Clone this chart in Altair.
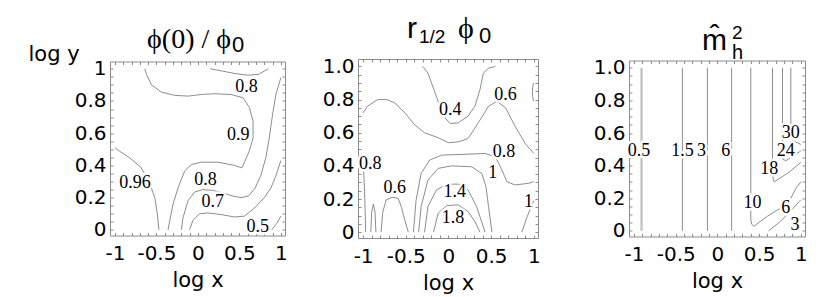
import altair as alt
import pandas as pd

XDOM = [-1.06, 1.05]
YDOM = [-0.035, 1.045]
X_LABELED = [-1, -0.5, 0, 0.5, 1]
Y_LABELED = [0, 0.2, 0.4, 0.6, 0.8, 1]
X_TICKS_ALL = [-1.0, -0.9, -0.8, -0.7, -0.6, -0.5, -0.4, -0.3, -0.2, -0.1, 0.0,
               0.1, 0.2, 0.3, 0.4, 0.5, 0.6, 0.7, 0.8, 0.9, 1.0]
Y_TICKS_ALL = [0.0, 0.05, 0.1, 0.15, 0.2, 0.25, 0.3, 0.35, 0.4, 0.45, 0.5,
               0.55, 0.6, 0.65, 0.7, 0.75, 0.8, 0.85, 0.9, 0.95, 1.0]

# ---------------- Panel 1 : phi(0)/phi0 ----------------
P1_C096_X = [-1.0, -0.95, -0.83, -0.69, -0.59, -0.52, -0.49, -0.47]
P1_C096_Y = [0.51, 0.49, 0.45, 0.39, 0.30, 0.20, 0.10, 0.0]
P1_C090_X = [-0.64, -0.62, -0.56, -0.44, -0.28, -0.12, 0.04, 0.20, 0.40, 0.545, 0.62, 0.665, 0.665,
             0.62, 0.565, 0.53, 0.44, 0.24, 0.04, -0.08, -0.16, -0.24, -0.30, -0.34, -0.36]
P1_C090_Y = [1.0, 0.965, 0.90, 0.855, 0.835, 0.83, 0.84, 0.845, 0.84, 0.82, 0.76, 0.675, 0.57,
             0.49, 0.425, 0.385, 0.40, 0.42, 0.42, 0.405, 0.365, 0.26, 0.16, 0.055, 0.0]
P1_C080T_X = [0.15, 0.30, 0.45, 0.60, 0.73, 0.85]
P1_C080T_Y = [1.0, 0.985, 0.97, 0.96, 0.965, 1.0]
P1_C080_X = [-0.20, -0.18, -0.12, -0.04, 0.06, 0.18, 0.30, 0.42, 0.52, 0.61, 0.69, 0.76, 0.82, 0.86, 0.90, 0.94, 1.0]
P1_C080_Y = [0.0, 0.075, 0.18, 0.235, 0.25, 0.245, 0.23, 0.21, 0.20, 0.21, 0.26, 0.34, 0.45, 0.57, 0.715, 0.84, 0.945]
P1_C070_X = [-0.10, -0.06, 0.02, 0.12, 0.28, 0.44, 0.56, 0.68, 0.80, 0.88, 0.94, 1.0]
P1_C070_Y = [0.0, 0.06, 0.10, 0.105, 0.095, 0.08, 0.085, 0.135, 0.20, 0.26, 0.335, 0.43]
P1_C050_X = [0.89, 0.95, 1.0]
P1_C050_Y = [0.0, 0.04, 0.085]
P1_LAB_TEXT = ["0.8", "0.9", "0.96", "0.8", "0.7", "0.5"]
P1_LAB_X = [0.585, 0.485, -0.76, 0.09, 0.18, 0.72]
P1_LAB_Y = [0.885, 0.59, 0.29, 0.31, 0.17, 0.015]

# ---------------- Panel 2 : r_1/2 phi0 ----------------
P2_C040_X = [-0.30, -0.24, -0.17, -0.10, -0.04, 0.02, 0.115, 0.23, 0.31, 0.37, 0.41, 0.47, 0.55]
P2_C040_Y = [1.0, 0.96, 0.86, 0.76, 0.69, 0.655, 0.66, 0.70, 0.76, 0.86, 0.96, 0.99, 1.0]
P2_C060_X = [-1.0, -0.95, -0.83, -0.72, -0.63, -0.51, -0.40, -0.28, -0.12, 0.0, 0.115, 0.23, 0.35,
             0.47, 0.57, 0.67, 0.78, 0.90, 1.0]
P2_C060_Y = [0.72, 0.76, 0.80, 0.80, 0.78, 0.72, 0.65, 0.60, 0.57, 0.54, 0.545, 0.565, 0.66,
             0.76, 0.79, 0.75, 0.64, 0.535, 0.475]
P2_C060S_X = [1.0, 0.985, 0.985, 1.0]
P2_C060S_Y = [0.90, 0.87, 0.82, 0.79]
P2_C080_X = [-0.41, -0.38, -0.32, -0.22, -0.08, 0.195, 0.43, 0.55, 0.61, 0.685, 0.78, 0.94, 1.0]
P2_C080_Y = [0.0, 0.19, 0.355, 0.435, 0.465, 0.47, 0.475, 0.455, 0.395, 0.305, 0.285, 0.295, 0.305]
P2_C100_X = [-0.35, -0.32, -0.24, -0.12, 0.035, 0.27, 0.39, 0.44, 0.47, 0.51]
P2_C100_Y = [0.0, 0.155, 0.315, 0.385, 0.40, 0.395, 0.355, 0.275, 0.155, 0.0]
P2_C140_X = [-0.28, -0.24, -0.14, -0.02, 0.115, 0.23, 0.33, 0.43]
P2_C140_Y = [0.0, 0.155, 0.255, 0.29, 0.29, 0.255, 0.155, 0.0]
P2_C180_X = [-0.175, -0.12, -0.02, 0.115, 0.23, 0.31, 0.37]
P2_C180_Y = [0.0, 0.115, 0.16, 0.165, 0.125, 0.065, 0.0]
P2_C060A_X = [-0.79, -0.77, -0.73, -0.66, -0.59, -0.55, -0.51, -0.47]
P2_C060A_Y = [0.0, 0.12, 0.195, 0.21, 0.205, 0.15, 0.07, 0.0]
P2_C080L_X = [-1.0, -0.99, -0.98, -0.97]
P2_C080L_Y = [0.44, 0.33, 0.20, 0.0]
P2_C070L_X = [-0.91, -0.90, -0.88, -0.86, -0.85]
P2_C070L_Y = [0.0, 0.12, 0.17, 0.12, 0.0]
P2_C100R_X = [0.86, 0.92, 0.98, 1.0]
P2_C100R_Y = [0.0, 0.09, 0.165, 0.19]
P2_LAB_TEXT = ["0.4", "0.6", "0.8", "0.8", "1", "0.6", "1.4", "1.8", "1"]
P2_LAB_X = [0.02, 0.67, 0.65, -0.915, 0.52, -0.63, 0.075, 0.055, 0.94]
P2_LAB_Y = [0.74, 0.83, 0.485, 0.41, 0.355, 0.265, 0.24, 0.085, 0.185]

# ---------------- Panel 3 : m_h^2 ----------------
P3_C05_X = [-0.91, -0.91]
P3_C05_Y = [0.0, 1.0]
P3_C15_X = [-0.42, -0.42]
P3_C15_Y = [0.0, 1.0]
P3_C3_X = [-0.12, -0.12]
P3_C3_Y = [0.0, 1.0]
P3_C6_X = [0.17, 0.17]
P3_C6_Y = [0.0, 1.0]
P3_C10_X = [0.40, 0.40, 0.41, 0.44, 0.52, 0.60, 0.76, 0.88, 0.94, 1.0]
P3_C10_Y = [1.0, 0.07, 0.04, 0.028, 0.06, 0.09, 0.14, 0.20, 0.26, 0.30]
P3_C18_X = [0.66, 0.66, 0.68, 0.86, 1.0]
P3_C18_Y = [1.0, 0.34, 0.30, 0.36, 0.42]
P3_C24_X = [0.78, 0.78, 0.82, 1.0]
P3_C24_Y = [1.0, 0.44, 0.43, 0.49]
P3_C30_X = [0.88, 0.88, 0.92, 1.0]
P3_C30_Y = [1.0, 0.57, 0.55, 0.53]
P3_C6L_X = [0.615, 0.76, 0.91, 1.0]
P3_C6L_Y = [0.0, 0.06, 0.14, 0.19]
P3_C3L_X = [0.88, 0.94, 1.0]
P3_C3L_Y = [0.0, 0.04, 0.08]
P3_LAB_TEXT = ["0.5", "1.5", "3", "6", "10", "18", "24", "30", "6", "3"]
P3_LAB_X = [-0.94, -0.42, -0.19, 0.10, 0.42, 0.62, 0.82, 0.88, 0.82, 0.93]
P3_LAB_Y = [0.49, 0.49, 0.49, 0.49, 0.17, 0.38, 0.49, 0.60, 0.14, 0.036]


def lines_df(segs):
    rows = []
    for name, xs, ys in segs:
        for i, (x, y) in enumerate(zip(xs, ys)):
            rows.append({"seg": name, "order": i, "x": x, "y": y})
    return pd.DataFrame(rows)


def labels_df(texts, xs, ys):
    return pd.DataFrame({"t": texts, "x": xs, "y": ys})


LINE_COLOR = "#808080"
FRAME_COLOR = "#8c8c8c"
SERIF = "Liberation Serif"
SANS = "Liberation Sans"
INWARD = alt.ExprRef(expr="-3")
LABEL_SIZE = 18

XLAB = "indexof(%s, datum.value) >= 0 ? toString(datum.value) : ''" % str(X_LABELED)
YLAB1 = "indexof(%s, datum.value) >= 0 ? toString(datum.value) : ''" % str(Y_LABELED)
YLAB2 = "datum.value == 1 ? '1.0' : (" + YLAB1 + ")"


def txt(s, x, y, font, size, align="left"):
    return alt.Chart(pd.DataFrame({"t": [s]})).mark_text(
        font=font, fontSize=size, align=align, baseline="alphabetic", color="black"
    ).encode(text="t:N", x=alt.value(x), y=alt.value(y))


def xscale():
    return alt.Scale(domain=XDOM, nice=False, zero=False)


def yscale():
    return alt.Scale(domain=YDOM, nice=False, zero=False)


def panel(segs, labs, w, h, ylab_expr, title_layers, ytitle=False, light_segs=None):
    xaxis = alt.Axis(values=X_TICKS_ALL, labelExpr=XLAB, labelOverlap=False, labelFlush=False,
                     tickSize=INWARD, labelPadding=27, labelBaseline="alphabetic",
                     title="log x", titleY=51, titleBaseline="alphabetic")
    if ytitle:
        yaxis = alt.Axis(values=Y_TICKS_ALL, labelExpr=ylab_expr, labelOverlap=False,
                         labelFlush=False, tickSize=INWARD, labelPadding=7,
                         title="log y", titleAngle=0, titleX=-82, titleY=-1.5,
                         titleAlign="left", titleBaseline="alphabetic")
    else:
        yaxis = alt.Axis(values=Y_TICKS_ALL, labelExpr=ylab_expr, labelOverlap=False,
                         labelFlush=False, tickSize=INWARD, labelPadding=7, title="")
    xtop = alt.Axis(orient="top", values=X_TICKS_ALL, labels=False, tickSize=INWARD, title="")
    yright = alt.Axis(orient="right", values=Y_TICKS_ALL, labels=False, tickSize=INWARD, title="")

    layers = []
    if light_segs is not None:
        layers.append(alt.Chart(lines_df(light_segs)).mark_line(
            color="#c0c0c0", strokeWidth=2.2).encode(
            x=alt.X("x:Q", scale=xscale(), axis=None),
            y=alt.Y("y:Q", scale=yscale(), axis=None),
            detail="seg:N", order="order:Q"))
    layers.append(alt.Chart(lines_df(segs)).mark_line(
        color=LINE_COLOR, strokeWidth=0.9).encode(
        x=alt.X("x:Q", scale=xscale(), axis=xaxis),
        y=alt.Y("y:Q", scale=yscale(), axis=yaxis),
        detail="seg:N", order="order:Q"))
    ldf = labels_df(*labs)
    layers.append(alt.Chart(ldf).mark_text(
        font=SERIF, fontSize=LABEL_SIZE, color="white", stroke="white", strokeWidth=5,
        strokeJoin="round").encode(
        x=alt.X("x:Q", scale=xscale(), axis=None),
        y=alt.Y("y:Q", scale=yscale(), axis=None), text="t:N"))
    layers.append(alt.Chart(ldf).mark_text(
        font=SERIF, fontSize=LABEL_SIZE, color="black").encode(
        x=alt.X("x:Q", scale=xscale(), axis=xtop),
        y=alt.Y("y:Q", scale=yscale(), axis=yright), text="t:N"))
    layers.extend(title_layers)
    return alt.layer(*layers).resolve_scale(x="independent", y="independent").properties(
        width=w, height=h)


def spacer(w):
    return alt.Chart(pd.DataFrame({"s": [0]})).mark_point(opacity=0).properties(
        width=w, height=10, view=alt.ViewBackground(strokeOpacity=0))


PHI = "\u03d5"

p1 = panel(
    [("096", P1_C096_X, P1_C096_Y), ("090", P1_C090_X, P1_C090_Y),
     ("080t", P1_C080T_X, P1_C080T_Y), ("080", P1_C080_X, P1_C080_Y),
     ("070", P1_C070_X, P1_C070_Y), ("050", P1_C050_X, P1_C050_Y)],
    (P1_LAB_TEXT, P1_LAB_X, P1_LAB_Y), 175, 174, YLAB1,
    [txt(PHI + "(0) / " + PHI, 121, -14, SERIF, 28, "right"), txt("0", 122, -10, SANS, 22)],
    ytitle=True)

p2 = panel(
    [("040", P2_C040_X, P2_C040_Y), ("060", P2_C060_X, P2_C060_Y),
     ("060s", P2_C060S_X, P2_C060S_Y), ("080", P2_C080_X, P2_C080_Y),
     ("100", P2_C100_X, P2_C100_Y), ("140", P2_C140_X, P2_C140_Y),
     ("180", P2_C180_X, P2_C180_Y), ("060a", P2_C060A_X, P2_C060A_Y),
     ("080l", P2_C080L_X, P2_C080L_Y), ("070l", P2_C070L_X, P2_C070L_Y),
     ("100r", P2_C100R_X, P2_C100R_Y)],
    (P2_LAB_TEXT, P2_LAB_X, P2_LAB_Y), 180, 179, YLAB2,
    [txt("r", 49, -21.5, SANS, 30), txt("1/2", 61, -16.5, SANS, 19),
     txt(PHI, 100, -21.5, SERIF, 30), txt("0", 121, -16.5, SANS, 22)])

p3 = panel(
    [("15", P3_C15_X, P3_C15_Y), ("3", P3_C3_X, P3_C3_Y), ("6", P3_C6_X, P3_C6_Y),
     ("10", P3_C10_X, P3_C10_Y), ("18", P3_C18_X, P3_C18_Y), ("24", P3_C24_X, P3_C24_Y),
     ("30", P3_C30_X, P3_C30_Y), ("6l", P3_C6L_X, P3_C6L_Y), ("3l", P3_C3L_X, P3_C3L_Y)],
    (P3_LAB_TEXT, P3_LAB_X, P3_LAB_Y), 176, 176, YLAB2,
    [txt("m\u0302", 73, -10.5, SANS, 30), txt("2", 103, -21.5, SANS, 19),
     txt("h", 103, -1.5, SANS, 20)],
    light_segs=[("05", P3_C05_X, P3_C05_Y)])

chart = alt.hconcat(p1, spacer(53), p2, spacer(71), p3, spacing=10, bounds="flush",
                    center=True).properties(
    padding={"left": 19, "top": 5, "right": 5, "bottom": 5}
).configure_view(stroke=FRAME_COLOR, strokeWidth=1).configure_axis(
    domain=False, ticks=True, tickColor=FRAME_COLOR, tickWidth=1, grid=False,
    labelFont="DejaVu Sans", labelFontSize=20, labelColor="black",
    titleFont="DejaVu Sans", titleFontSize=21, titleFontWeight="normal", titleColor="black")

chart.save("out.html", embed_options={"renderer": "svg", "actions": False})
